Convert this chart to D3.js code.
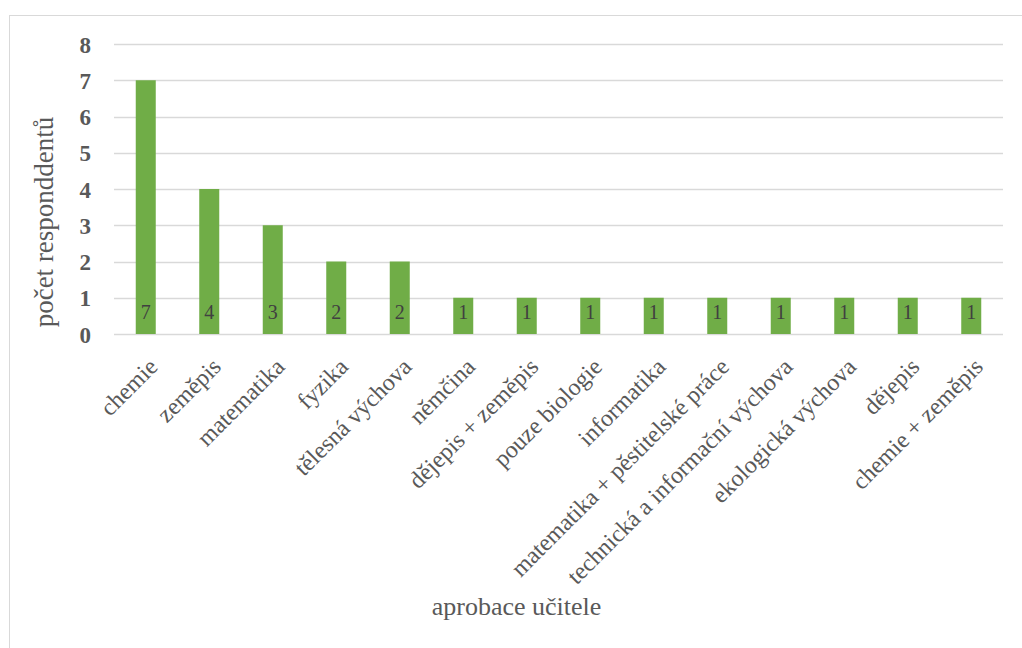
<!DOCTYPE html>
<html><head><meta charset="utf-8">
<script src="https://cdn.jsdelivr.net/npm/d3@7"></script>
<style>body{margin:0;background:#fff}svg{display:block}
text{font-family:"Liberation Serif","Times New Roman","DejaVu Serif",serif !important}</style>
</head><body>
<script>
const categories = ["chemie","zeměpis","matematika","fyzika","tělesná výchova","němčina","dějepis + zeměpis","pouze biologie","informatika","matematika + pěstitelské práce","technická a informační výchova","ekologická výchova","dějepis","chemie + zeměpis"];
const values = [7,4,3,2,2,1,1,1,1,1,1,1,1,1];
const yTicks = [0,1,2,3,4,5,6,7,8];
const xTitle = "aprobace učitele";
const yTitle = "počet responddentů";

(function(){
const W = 1022, H = 648;
const svg = d3.select("body").append("svg").attr("width", W).attr("height", H);
svg.append("rect").attr("x", 9.5).attr("y", 15.5).attr("width", W + 10).attr("height", H + 10)
  .attr("fill", "#fff").attr("stroke", "#d9d9d9").attr("stroke-width", 1);

const pLeft = 114, pRight = 1003, pTop = 44, pBottom = 334;
const x = d3.scaleBand().domain(categories).range([pLeft, pRight]).paddingInner(0.685).paddingOuter(0.3425);
const y = d3.scaleLinear().domain([0, 8]).range([pBottom, pTop]);

// gridlines
svg.append("g").selectAll("line").data(yTicks).join("line")
  .attr("x1", pLeft).attr("x2", pRight)
  .attr("y1", d => Math.round(y(d)) + 0.5).attr("y2", d => Math.round(y(d)) + 0.5)
  .attr("stroke", "#d9d9d9").attr("stroke-width", 1.5);

// y axis
const yAxis = svg.append("g").attr("transform", `translate(91,0)`)
  .call(d3.axisLeft(y).tickValues(yTicks).tickSize(0).tickPadding(0));
yAxis.select(".domain").remove();
yAxis.selectAll("text").attr("font-size", 23).attr("font-weight", "bold")
  .attr("fill", "#595959").attr("dy", "0.35em");

// bars
svg.append("g").selectAll("rect").data(values).join("rect")
  .attr("x", (d, i) => x(categories[i])).attr("width", x.bandwidth())
  .attr("y", d => y(d)).attr("height", d => y(0) - y(d)).attr("fill", "#70ad47");

// value labels
svg.append("g").selectAll("text").data(values).join("text")
  .attr("x", (d, i) => x(categories[i]) + x.bandwidth() / 2)
  .attr("y", y(0) - 22).attr("dy", "0.35em").attr("text-anchor", "middle")
  .attr("font-size", 20).attr("fill", "#404040").text(d => d);

// category labels
const xAxis = svg.append("g").attr("transform", `translate(0,${pBottom})`)
  .call(d3.axisBottom(x).tickSize(0).tickPadding(0));
xAxis.select(".domain").remove();
xAxis.selectAll("text").attr("font-size", 24).attr("fill", "#595959")
  .attr("text-anchor", "end").attr("y", 0).attr("dy", "0.72em")
  .attr("transform", "translate(1,22) rotate(-45)");

// titles
svg.append("text").attr("x", (pLeft + pRight) / 2 - 42).attr("y", 615).attr("text-anchor", "middle")
  .attr("font-size", 26).attr("fill", "#595959").text(xTitle);
svg.append("text").attr("transform", `translate(53,222) rotate(-90)`)
  .attr("text-anchor", "middle").attr("font-size", 27).attr("fill", "#595959").text(yTitle);
})();
</script>
</body></html>
